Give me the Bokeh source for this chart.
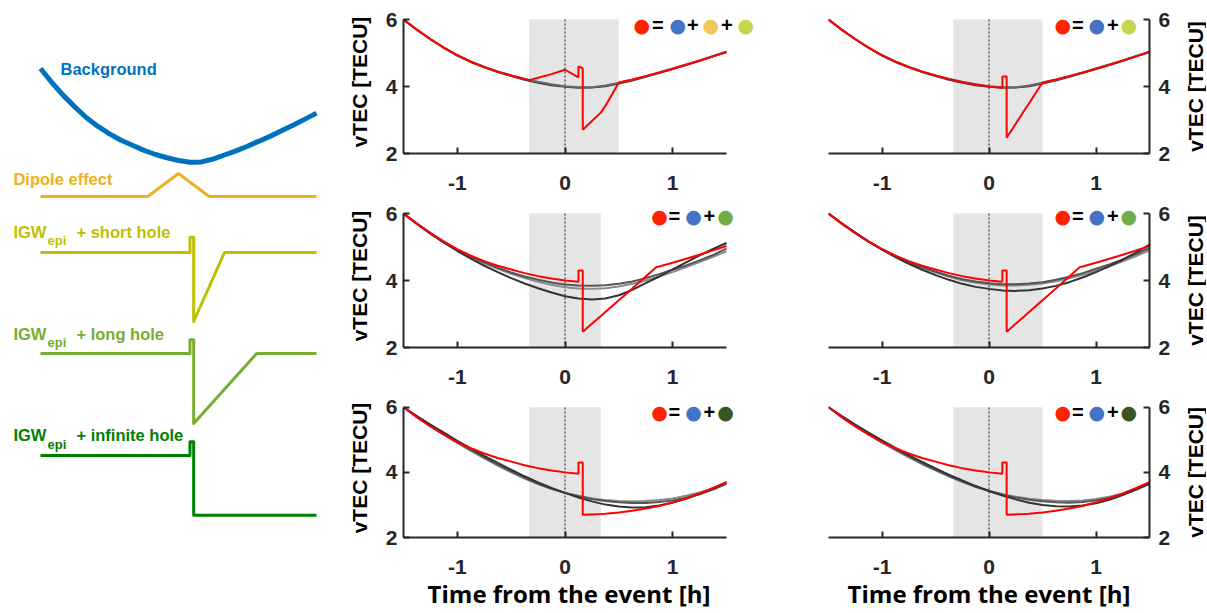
import math
from bokeh.plotting import figure
from bokeh.layouts import row, column
from bokeh.models import Range1d, FixedTicker, BoxAnnotation, Label
from bokeh.embed import file_html
from bokeh.resources import INLINE
from bokeh.core.properties import value

# ------------------------------------------------------------------ data
# time grid of the background and of the synthetic (red) vTEC series [h]
T_RED = [-1.5, -1.375, -1.25, -1.125, -1.0, -0.875, -0.75, -0.625, -0.5, -0.375,
         -0.333, -0.25, -0.125, 0.0, 0.125, 0.125, 0.165, 0.165, 0.25, 0.333,
         0.375, 0.5, 0.625, 0.75, 0.85, 0.875, 1.0, 1.125, 1.25, 1.375, 1.5]
BACKGROUND = [6.00, 5.69, 5.41, 5.16, 4.93, 4.74, 4.58, 4.44, 4.33, 4.22,
              4.19, 4.13, 4.06, 4.00, 3.96, 3.96, 3.96, 3.96, 3.97, 4.01,
              4.03, 4.12, 4.21, 4.31, 4.40, 4.42, 4.53, 4.65, 4.77, 4.90, 5.03]
RED_BG_DIP_SHORT = [6.00, 5.69, 5.41, 5.16, 4.93, 4.74, 4.58, 4.44, 4.33, 4.22,
                    4.19, 4.26, 4.37, 4.50, 4.27, 4.60, 4.54, 2.71, 2.97, 3.22,
                    3.42, 4.12, 4.21, 4.31, 4.40, 4.42, 4.53, 4.65, 4.77, 4.90, 5.03]
RED_BG_SHORT = [6.00, 5.69, 5.41, 5.16, 4.93, 4.74, 4.58, 4.44, 4.33, 4.22,
                4.19, 4.13, 4.06, 4.00, 3.96, 4.30, 4.30, 2.47, 2.89, 3.30,
                3.50, 4.12, 4.21, 4.31, 4.40, 4.42, 4.53, 4.65, 4.77, 4.90, 5.03]
RED_BG_LONG = [6.00, 5.69, 5.41, 5.16, 4.93, 4.74, 4.58, 4.44, 4.33, 4.22,
               4.19, 4.13, 4.06, 4.00, 3.96, 4.30, 4.30, 2.47, 2.71, 2.94,
               3.06, 3.41, 3.76, 4.12, 4.40, 4.42, 4.53, 4.65, 4.77, 4.90, 5.03]
RED_BG_INF = [6.00, 5.69, 5.41, 5.16, 4.93, 4.74, 4.58, 4.44, 4.33, 4.22,
              4.19, 4.13, 4.06, 4.00, 3.96, 4.30, 4.30, 2.70, 2.71, 2.72,
              2.73, 2.77, 2.82, 2.89, 2.95, 2.97, 3.08, 3.21, 3.35, 3.52, 3.70]

# time grid of the fitted (grey) curves [h]
T_FIT = [-1.5, -1.375, -1.25, -1.125, -1.0, -0.875, -0.75, -0.625, -0.5, -0.375,
         -0.25, -0.125, 0.0, 0.125, 0.25, 0.375, 0.5, 0.625, 0.75, 0.875,
         1.0, 1.125, 1.25, 1.375, 1.5]
FIT_TOP_A = [6.00, 5.69, 5.41, 5.15, 4.92, 4.73, 4.57, 4.43, 4.31, 4.20, 4.11, 4.04, 3.99,
             3.96, 3.97, 4.01, 4.09, 4.18, 4.29, 4.40, 4.52, 4.64, 4.77, 4.90, 5.03]
FIT_TOP_B = [6.00, 5.70, 5.42, 5.16, 4.94, 4.75, 4.59, 4.45, 4.33, 4.23, 4.14, 4.07, 4.01,
             3.98, 3.98, 4.03, 4.11, 4.20, 4.31, 4.42, 4.54, 4.66, 4.78, 4.91, 5.04]
FIT_MID_L1 = [6.00, 5.69, 5.40, 5.13, 4.88, 4.65, 4.44, 4.25, 4.07, 3.91, 3.77, 3.64, 3.53,
              3.46, 3.43, 3.46, 3.56, 3.72, 3.92, 4.12, 4.33, 4.54, 4.75, 4.94, 5.12]
FIT_MID_L2 = [6.00, 5.70, 5.42, 5.16, 4.93, 4.72, 4.54, 4.38, 4.24, 4.12, 4.02, 3.94, 3.88,
              3.85, 3.84, 3.86, 3.90, 3.97, 4.07, 4.19, 4.32, 4.45, 4.60, 4.76, 4.95]
FIT_MID_L3 = [6.00, 5.69, 5.40, 5.14, 4.91, 4.70, 4.51, 4.35, 4.20, 4.07, 3.96, 3.87, 3.80,
              3.76, 3.75, 3.77, 3.82, 3.90, 4.00, 4.12, 4.25, 4.40, 4.55, 4.71, 4.87]
FIT_MID_R1 = [6.00, 5.70, 5.42, 5.16, 4.92, 4.70, 4.50, 4.32, 4.16, 4.02, 3.90, 3.81, 3.75,
              3.70, 3.69, 3.71, 3.76, 3.84, 3.95, 4.09, 4.25, 4.43, 4.62, 4.84, 5.07]
FIT_MID_R2 = [6.00, 5.71, 5.43, 5.17, 4.94, 4.74, 4.56, 4.40, 4.26, 4.14, 4.04, 3.97, 3.92,
              3.89, 3.89, 3.91, 3.95, 4.02, 4.11, 4.22, 4.35, 4.48, 4.63, 4.79, 4.97]
FIT_MID_R3 = [6.00, 5.70, 5.42, 5.16, 4.93, 4.72, 4.54, 4.38, 4.24, 4.11, 4.01, 3.93, 3.88,
              3.85, 3.85, 3.87, 3.91, 3.98, 4.07, 4.17, 4.29, 4.42, 4.57, 4.73, 4.90]
FIT_BOT_L1 = [6.00, 5.73, 5.47, 5.22, 4.97, 4.74, 4.51, 4.29, 4.08, 3.88, 3.69, 3.52, 3.37,
              3.23, 3.11, 3.01, 2.95, 2.92, 2.93, 2.98, 3.07, 3.19, 3.34, 3.51, 3.70]
FIT_BOT_L2 = [6.00, 5.71, 5.44, 5.18, 4.93, 4.69, 4.46, 4.24, 4.03, 3.83, 3.65, 3.50, 3.37,
              3.27, 3.18, 3.12, 3.08, 3.06, 3.06, 3.09, 3.14, 3.22, 3.33, 3.47, 3.65]
FIT_BOT_L3 = [6.00, 5.70, 5.42, 5.15, 4.90, 4.66, 4.43, 4.21, 4.00, 3.81, 3.64, 3.49, 3.37,
              3.28, 3.20, 3.15, 3.12, 3.11, 3.12, 3.15, 3.20, 3.28, 3.38, 3.51, 3.66]
FIT_BOT_R1 = [6.00, 5.73, 5.47, 5.22, 4.98, 4.75, 4.53, 4.32, 4.12, 3.93, 3.75, 3.58, 3.43,
              3.29, 3.17, 3.07, 3.00, 2.96, 2.95, 2.98, 3.05, 3.16, 3.30, 3.47, 3.67]
FIT_BOT_R2 = [6.00, 5.71, 5.44, 5.18, 4.94, 4.71, 4.49, 4.28, 4.08, 3.89, 3.72, 3.56, 3.43,
              3.32, 3.23, 3.16, 3.11, 3.08, 3.07, 3.09, 3.14, 3.22, 3.33, 3.47, 3.64]
FIT_BOT_R3 = [6.00, 5.70, 5.42, 5.16, 4.91, 4.68, 4.46, 4.25, 4.06, 3.88, 3.71, 3.56, 3.43,
              3.33, 3.25, 3.19, 3.15, 3.13, 3.12, 3.14, 3.18, 3.25, 3.35, 3.48, 3.65]

# analysis windows [h]
WINDOW_WIDE = [-0.333, 0.5]
WINDOW_NARROW = [-0.333, 0.333]

# schematic components (time [h], value [TECU])
DIPOLE_T = [-1.5, -0.333, 0.0, 0.333, 1.5]
DIPOLE_V = [0.0, 0.0, 0.5, 0.0, 0.0]
SHORT_T = [-1.5, 0.125, 0.125, 0.165, 0.165, 0.5, 1.5]
SHORT_V = [0.0, 0.0, 0.33, 0.33, -1.5, 0.0, 0.0]
LONG_T = [-1.5, 0.125, 0.125, 0.165, 0.165, 0.85, 1.5]
LONG_V = [0.0, 0.0, 0.3, 0.3, -1.52, 0.0, 0.0]
INF_T = [-1.5, 0.125, 0.125, 0.165, 0.165, 1.5]
INF_V = [0.0, 0.0, 0.3, 0.3, -1.3, -1.3]

X_TICKS = [-1, 0, 1]
Y_TICKS = [2, 4, 6]
X_LIM = (-1.5, 1.5)
Y_LIM = (2, 6)
Y_LABEL = "vTEC [TECU]"
X_LABEL = "Time from the event [h]"

# ------------------------------------------------------------------ colours
C_BG = "#0072BD"
C_DIP = "#EDB120"
C_SHORT = "#BFBF00"
C_LONG = "#77AC30"
C_INF = "#008000"
RED = "#FF0000"
DOT_RED = "#FF2200"
DOT_BLUE = "#4472C4"
DOT_YEL = "#F2C75C"
DOT_YG = "#C5D550"
DOT_G = "#70AD47"
DOT_DG = "#375623"
AX = "#262626"
FONT = "Liberation Sans"

# ------------------------------------------------------------------ schematic
schem = figure(width=340, height=612, x_range=Range1d(-1.9348, 1.7609),
               y_range=Range1d(-5.8261, 7.4783), x_axis_type=None, y_axis_type=None,
               toolbar_location=None, output_backend="svg", min_border=0)
schem.grid.visible = False
schem.outline_line_color = None

schem.line(T_RED, BACKGROUND, line_color=C_BG, line_width=5)
off_dip, off_short, off_long, off_inf = 3.217, 2.0, -0.196, -2.413
schem.line(DIPOLE_T, [v + off_dip for v in DIPOLE_V], line_color=C_DIP, line_width=3)
schem.line(SHORT_T, [v + off_short for v in SHORT_V], line_color=C_SHORT, line_width=3,
           line_join="round")
schem.line(LONG_T, [v + off_long for v in LONG_V], line_color=C_LONG, line_width=3,
           line_join="round")
schem.line(INF_T, [v + off_inf for v in INF_V], line_color=C_INF, line_width=3,
           line_join="round")

def stext(x, y, txt, color, size="16.5px"):
    schem.text(x=[x], y=[y], text=[txt], text_color=color, text_font=value(FONT),
               text_font_style="bold", text_font_size=size,
               text_align="left", text_baseline="middle")

stext(-1.283, 6.0, "Background", C_BG)
stext(-1.794, 3.587, "Dipole effect", C_DIP)
for yy, col, name in [(2.456, C_SHORT, "+ short hole"), (0.239, C_LONG, "+ long hole"),
                      (-1.978, C_INF, "+ infinite hole")]:
    stext(-1.794, yy, "IGW", col)
    stext(-1.424, yy - 0.2, "epi", col, size="13px")
    stext(-1.109, yy, name, col)

# ------------------------------------------------------------------ panels
PX_PER_H = 323 / 3.0       # horizontal scale of the frames
PX_PER_TEC = 134 / 4.0     # vertical scale of the frames
TOP_PAD = 9                # room above y=6 for the dot legend
Y_END = Y_LIM[1] + TOP_PAD / PX_PER_TEC

def make_panel(col, rowi, fits, fit_colors, red, window, dots, leg_x, leg_y, offs,
               right_pad=0):
    left = col == 0
    bottom = rowi == 2
    x_end = X_LIM[1] + right_pad / PX_PER_H
    p = figure(width=430 if left else 411, height=224 if bottom else 194,
               x_range=Range1d(X_LIM[0], x_end), y_range=Range1d(Y_LIM[0], Y_END),
               y_axis_location="left" if left else "right",
               toolbar_location=None, output_backend="svg",
               min_border_left=63 if left else 58,
               min_border_right=(44 - right_pad) if left else 32,
               min_border_top=10, min_border_bottom=71 if bottom else 41)
    p.grid.visible = False
    p.outline_line_color = None

    p.add_layout(BoxAnnotation(left=window[0], right=window[1], bottom=Y_LIM[0], top=Y_LIM[1],
                               fill_color="#E5E5E5", fill_alpha=1, line_color=None,
                               level="underlay"))
    p.segment(x0=[0], y0=[Y_LIM[0]], x1=[0], y1=[Y_LIM[1]], line_color="#555555",
              line_dash="2 2", line_width=1.5)
    for f, c in zip(fits, fit_colors):
        p.line(T_FIT, f, line_color=c, line_width=2)
    p.line(T_RED, red, line_color=RED, line_width=2)

    for ax in p.axis:
        ax.axis_line_color = AX
        ax.axis_line_width = 2
        ax.major_tick_in = 6
        ax.major_tick_out = 0
        ax.major_tick_line_width = 2
        ax.major_tick_line_color = AX
        ax.minor_tick_line_color = None
        ax.major_label_text_font = FONT
        ax.major_label_text_font_style = "bold"
        ax.major_label_text_font_size = "21px"
        ax.major_label_text_color = AX
    p.xaxis.bounds = X_LIM
    p.yaxis.bounds = Y_LIM
    p.xaxis.ticker = FixedTicker(ticks=X_TICKS)
    p.xaxis.major_label_overrides = {-1: "-1", 0: "0", 1: "1"}
    p.xaxis.major_label_standoff = 22
    p.yaxis.ticker = FixedTicker(ticks=Y_TICKS)
    p.yaxis.major_label_standoff = 6 if left else 9
    if left:
        p.yaxis.axis_label = Y_LABEL
        p.yaxis.axis_label_text_font = FONT
        p.yaxis.axis_label_text_font_style = "bold"
        p.yaxis.axis_label_text_font_size = "21px"
        p.yaxis.axis_label_text_color = "black"
        p.yaxis.axis_label_standoff = 12
    if bottom:
        p.xaxis.axis_label = X_LABEL
        p.xaxis.axis_label_text_font = "Open Sans"
        p.xaxis.axis_label_text_font_style = "bold"
        p.xaxis.axis_label_text_font_size = "24px"
        p.xaxis.axis_label_text_color = "black"
        p.xaxis.axis_label_standoff = 0

    # colour-dot "equation" legend
    items = [("●", DOT_RED), ("=", "black")]
    for i, d in enumerate(dots):
        if i > 0:
            items.append(("+", "black"))
        items.append(("●", d))
    for (txt, c), o in zip(items, offs):
        is_dot = txt == "●"
        p.add_layout(Label(x=leg_x, y=leg_y, x_offset=o, text=txt, text_color=c,
                           text_font="DejaVu Sans" if is_dot else FONT,
                           text_font_style="normal" if is_dot else "bold",
                           text_font_size="19px" if is_dot else "20px",
                           text_align="center", text_baseline="middle"))
    return p


def right_label(rowi):
    """Narrow strip holding the right-hand 'vTEC [TECU]' title (reads bottom to top)."""
    bottom = rowi == 2
    f = figure(width=25, height=224 if bottom else 194, x_range=Range1d(0, 25),
               y_range=Range1d(Y_LIM[0], Y_END), x_axis_type=None, y_axis_type=None,
               toolbar_location=None, output_backend="svg",
               min_border_left=0, min_border_right=0, min_border_top=10,
               min_border_bottom=71 if bottom else 41)
    f.grid.visible = False
    f.outline_line_color = None
    f.text(x=[14], y=[(Y_LIM[0] + Y_LIM[1]) / 2], text=[Y_LABEL], angle=math.pi / 2,
           text_font=value(FONT), text_font_style="bold", text_font_size="21px",
           text_color="black", text_align="center", text_baseline="middle")
    return f


OFF5 = [0, 15, 34, 50, 66]
OFF7 = [0, 16, 36, 51, 69, 85, 104]
GREYS3 = ["#8a8a8a", "#555555", "#333333"]
p11 = make_panel(0, 0, [FIT_TOP_A, FIT_TOP_B], ["#3a3a3a", "#6a6a6a"], RED_BG_DIP_SHORT,
                 WINDOW_WIDE, [DOT_BLUE, DOT_YEL, DOT_YG], 0.713, 5.85, OFF7, right_pad=44)
p12 = make_panel(1, 0, [FIT_TOP_A, FIT_TOP_B], ["#3a3a3a", "#6a6a6a"], RED_BG_SHORT,
                 WINDOW_WIDE, [DOT_BLUE, DOT_YG], 0.69, 5.85, OFF5)
p21 = make_panel(0, 1, [FIT_MID_L3, FIT_MID_L2, FIT_MID_L1], GREYS3,
                 RED_BG_LONG, WINDOW_NARROW, [DOT_BLUE, DOT_G], 0.877, 5.94, OFF5, right_pad=8)
p22 = make_panel(1, 1, [FIT_MID_R3, FIT_MID_R2, FIT_MID_R1], GREYS3,
                 RED_BG_LONG, WINDOW_WIDE, [DOT_BLUE, DOT_G], 0.69, 5.94, OFF5)
p31 = make_panel(0, 2, [FIT_BOT_L3, FIT_BOT_L2, FIT_BOT_L1], GREYS3,
                 RED_BG_INF, WINDOW_NARROW, [DOT_BLUE, DOT_DG], 0.877, 5.86, OFF5, right_pad=8)
p32 = make_panel(1, 2, [FIT_BOT_R3, FIT_BOT_R2, FIT_BOT_R1], GREYS3,
                 RED_BG_INF, WINDOW_WIDE, [DOT_BLUE, DOT_DG], 0.69, 5.86, OFF5)

layout = row(schem,
             column(row(p11, p12, right_label(0), spacing=0),
                    row(p21, p22, right_label(1), spacing=0),
                    row(p31, p32, right_label(2), spacing=0), spacing=0),
             spacing=0)

open("out.html", "w").write(file_html(layout, INLINE))
